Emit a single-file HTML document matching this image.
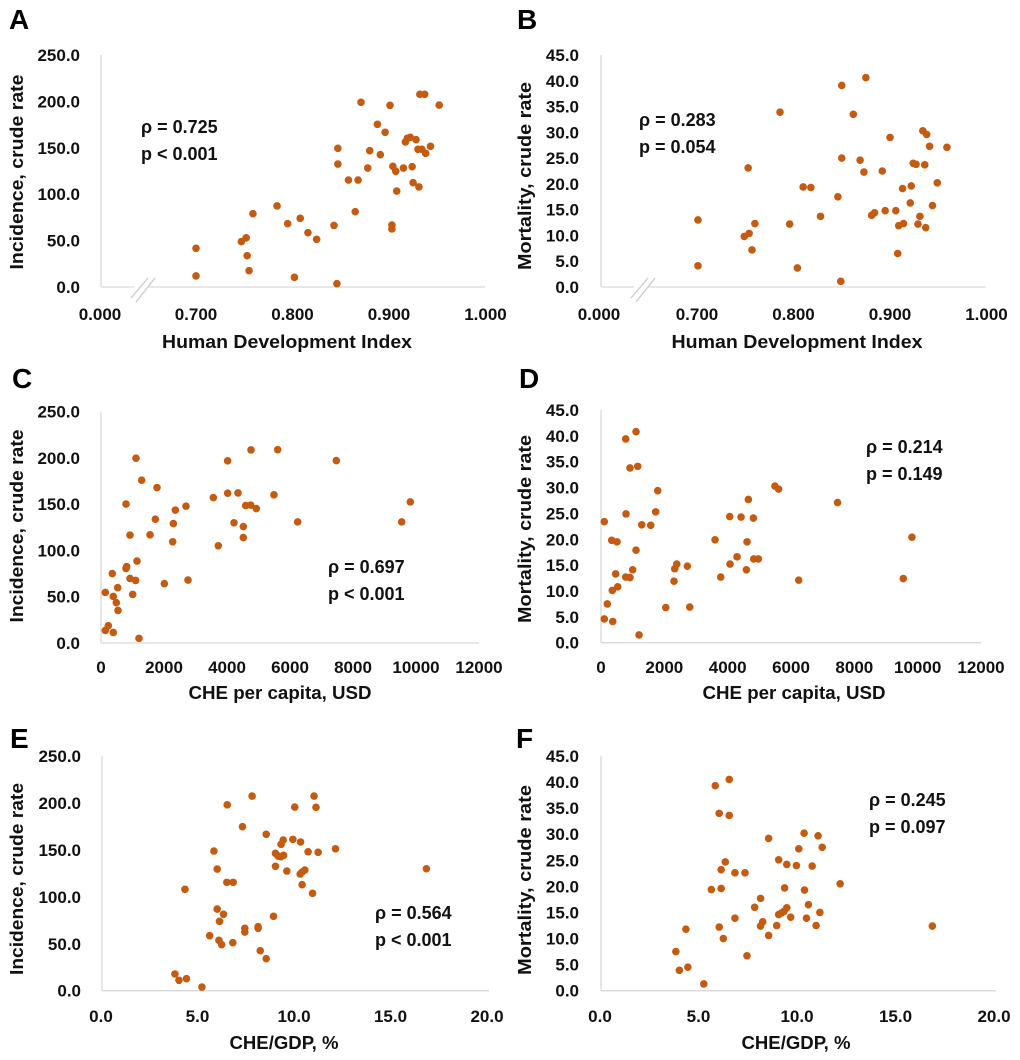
<!DOCTYPE html>
<html><head><meta charset="utf-8">
<style>
html,body{margin:0;padding:0;background:#fff;}
svg{display:block;font-family:"Liberation Sans",sans-serif;font-weight:bold;}
</style></head>
<body>
<svg id="fig" width="1020" height="1060" viewBox="0 0 1020 1060" xmlns="http://www.w3.org/2000/svg"></svg>
<script>
// ---- Panel A: HDI vs incidence ----
const hdiA=[0.700,0.700,0.747,0.752,0.753,0.755,0.759,0.784,0.795,0.802,0.808,0.816,0.825,0.843,0.846,0.847,0.847,0.858,0.868,0.865,0.871,0.878,0.880,0.888,0.891,0.896,0.901,0.903,0.903,0.904,0.907,0.908,0.915,0.917,0.919,0.922,0.924,0.925,0.928,0.930,0.931,0.932,0.937,0.934,0.938,0.943,0.952];
const incA=[41.7,11.9,49,53,33.7,17.6,79,87.3,68.2,10.4,74,58.5,51.4,66.4,3.6,149.4,132.5,115.3,115.3,81.2,199,128.2,146.9,175.3,142.6,166.7,195.8,66.8,62.5,130,124.7,103.4,128.2,156.3,160.2,161.3,129.7,112.4,158.7,148.4,107.8,207.6,207.6,148.4,144,151.6,196];
// ---- Panel B: HDI vs mortality ----
const hdiB=[0.701,0.701,0.753,0.749,0.754,0.757,0.760,0.786,0.796,0.804,0.810,0.818,0.828,0.846,0.849,0.850,0.850,0.875,0.862,0.869,0.873,0.892,0.900,0.881,0.884,0.895,0.906,0.908,0.909,0.914,0.913,0.922,0.921,0.924,0.927,0.929,0.931,0.934,0.938,0.936,0.937,0.941,0.944,0.949,0.959];
const mortB=[13.0,4.1,23.1,9.8,10.4,7.2,12.3,33.9,12.2,3.7,19.4,19.3,13.7,17.5,1.1,39.1,25.0,40.6,33.5,24.6,22.3,22.5,29.0,13.9,14.4,14.8,14.8,6.5,11.9,12.3,19.1,19.6,16.3,24.0,23.8,12.2,13.7,30.3,29.6,23.7,11.5,27.3,15.8,20.2,27.1];
// ---- Panel C: CHE per capita vs incidence ----
const cheC=[137,137,232,359,390,390,486,529,540,794,794,815,921,921,1005,1100,1111,1143,1206,1291,1556,1725,1778,2010,2276,2296,2360,2698,2762,3566,3724,4021,4021,4222,4349,4518,4518,4593,4752,4762,4930,5609,7470,5492,6244,9546,9819];
const incC=[54.6,13.6,18.7,75,50.3,11.4,43.5,59.7,35.2,150,80.5,82.6,116.5,69.7,52.4,67.6,199.6,88.5,5,175.8,116.8,133.7,167.8,64,109.3,129,143.5,147.8,68,157,105,196.7,161.8,129.8,162.1,113.9,125.8,148.4,148.9,208.5,145.2,208.8,197,160,130.8,130.8,152.4];
// ---- Panel D: CHE per capita vs mortality ----
const cheD=[104,104,199,338,506,357,370,464,528,780,790,780,916,916,1001,1106,1106,1160,1201,1286,1570,1728,1791,2044,2306,2328,2392,2727,2802,3602,3781,4065,4075,4297,4423,4591,4612,4654,4812,4824,4970,5492,5609,7470,6244,9546,9819];
const mortD=[23.4,4.6,7.5,19.8,19.5,10.1,4.1,13.3,10.8,39.4,24.9,12.7,12.6,33.8,14.1,40.8,17.9,34.1,1.5,22.8,22.7,25.3,29.4,6.8,11.9,14.3,15.2,14.8,6.9,19.9,12.7,24.4,15.2,16.6,24.3,14.1,19.5,27.7,24.1,16.2,16.2,30.3,29.7,27.1,12.1,12.4,20.4];
// ---- Panel E: CHE/GDP vs incidence ----
const gdpE=[3.83,4.04,4.43,4.35,5.23,5.63,5.85,6.02,6.02,6.14,6.11,6.25,6.35,6.54,6.52,6.85,6.83,7.33,7.45,7.45,7.83,8.14,8.14,8.25,8.56,8.56,8.94,9.04,9.04,9.18,9.32,9.46,9.33,9.44,9.63,9.94,10.04,10.34,10.32,10.42,10.56,10.42,10.73,10.96,11.04,11.14,11.25,12.15,16.86];
const incE=[17.8,11.1,12.8,108,3.9,58.6,148.8,129.6,87,73.9,53.7,49,81.4,198,115.4,115.4,51.1,174.7,66.5,62.5,207.3,68.2,66.5,42.6,34.1,166.6,79.2,146.3,132.5,143.4,142.7,144.2,155.9,160.5,127.5,161.2,195.6,158.4,124.3,126.4,128.5,112.9,148,103.7,207.3,195.3,147.4,151.2,129.9];
// ---- Panel F: CHE/GDP vs mortality ----
const gdpF=[3.85,4.03,4.46,4.36,5.27,5.65,5.85,6.05,6.05,6.15,6.15,6.26,6.36,6.56,6.56,6.85,6.85,7.36,7.46,7.85,8.15,8.15,8.26,8.56,8.56,8.97,9.07,9.07,9.21,9.34,9.48,9.37,9.48,9.68,9.97,10.09,10.36,10.38,10.48,10.58,10.77,10.97,11.07,11.16,11.28,12.19,16.87];
const mortF=[7.5,3.9,4.5,11.8,1.3,19.4,39.3,34.0,12.2,23.2,19.6,10.0,24.7,40.5,33.6,22.6,13.9,22.6,6.7,16.0,17.7,12.4,13.2,29.2,10.6,12.5,25.1,14.6,14.9,15.2,15.9,19.7,24.2,14.1,24.0,27.2,30.2,19.3,13.9,16.5,23.9,12.5,29.7,15.0,27.5,20.5,12.4];

const incTicks=["0.0","50.0","100.0","150.0","200.0","250.0"];
const incTickVals=[0,50,100,150,200,250];
const mortTicks=["0.0","5.0","10.0","15.0","20.0","25.0","30.0","35.0","40.0","45.0"];
const mortTickVals=[0,5,10,15,20,25,30,35,40,45];
const hdiTicks=["0.000","0.700","0.800","0.900","1.000"];
const hdiTickVals=[0,0.7,0.8,0.9,1.0];
const cheTicks=["0","2000","4000","6000","8000","10000","12000"];
const cheTickVals=[0,2000,4000,6000,8000,10000,12000];
const gdpTicks=["0.0","5.0","10.0","15.0","20.0"];
const gdpTickVals=[0,5,10,15,20];

const NS="http://www.w3.org/2000/svg";
const svg=document.getElementById('fig');
function mk(tag,attrs,parent){const e=document.createElementNS(NS,tag);for(const k in attrs)e.setAttribute(k,attrs[k]);(parent||svg).appendChild(e);return e;}

function panel(p){
  const g=mk('g',{});
  
  
  const y=v=>p.y0-(v-p.ymin)/(p.ymax-p.ymin)*(p.y0-p.y1);
  const x=p.xs;
  const L=mk('text',{x:p.lx,y:p.ly,'font-size':28,fill:'#000'},g);L.textContent=p.id;
  
  
  const ya=mk('line',{x1:p.ax,y1:p.y1,x2:p.ax,y2:p.y0,stroke:'#d9d9d9','stroke-width':1.3},g);
  
  
  const xa=mk('line',{x1:p.ax,y1:p.y0,x2:p.xend,y2:p.y0,stroke:'#d9d9d9','stroke-width':1.3},g);
  
  
  if(p.brk){
    const b=mk('g',{},g);
    
    
    mk('rect',{x:p.ax+33,y:p.y0-3,width:14,height:6,fill:'#fff'},b);
    mk('line',{x1:p.ax+30,y1:p.y0+11,x2:p.ax+47,y2:p.y0-9,stroke:'#c8c8c8','stroke-width':1.2},b);
    mk('line',{x1:p.ax+35,y1:p.y0+15,x2:p.ax+54,y2:p.y0-9,stroke:'#c8c8c8','stroke-width':1.2},b);
  }
  p.yTickVals.forEach((v,i)=>{
    const t=mk('text',{x:p.ylx,y:y(v)+6,'font-size':17,'text-anchor':'end',fill:'#111'},g);
    t.textContent=p.yTicks[i];
    
    
  });
  p.xTickVals.forEach((v,i)=>{
    const t=mk('text',{x:x(v),y:p.xly,'font-size':17,'text-anchor':'middle',fill:'#111'},g);
    t.textContent=p.xTicks[i];
    
    
  });
  const xt=mk('text',{x:p.xtx,y:p.xty,'font-size':18,'text-anchor':'middle',fill:'#111',textLength:p.xtl,lengthAdjust:'spacingAndGlyphs'},g);
  xt.textContent=p.xTitle;
  
  
  const yt=mk('text',{x:0,y:0,'font-size':18,'text-anchor':'middle',fill:'#111',textLength:p.ytl,lengthAdjust:'spacingAndGlyphs',transform:`translate(${p.ytx},${p.yty}) rotate(-90)`},g);
  yt.textContent=p.yTitle;
  
  
  const a1=mk('text',{x:p.anx,y:p.any,'font-size':18,fill:'#111'},g);a1.textContent=p.an1;
  
  
  const a2=mk('text',{x:p.anx,y:p.any+27,'font-size':18,fill:'#111'},g);a2.textContent=p.an2;
  
  
  p.xd.forEach((v,i)=>{
    const c=mk('circle',{cx:x(v),cy:y(p.yd[i]),r:3.8,fill:'#C55A11'},g);
    
    
  });
}
function hdiScale(ox,o7,step){return v=>v<=0?ox:o7+(v-0.7)/0.1*step;}
function lin(x0,x1,vmax){return v=>x0+v/vmax*(x1-x0);}

panel({id:'A',lx:9,ly:29,ax:101,xend:485,y0:287,y1:55,ymin:0,ymax:250,ylx:80,xly:320,
  xs:hdiScale(100,196,96.5),brk:true,yTicks:incTicks,yTickVals:incTickVals,xTicks:hdiTicks,xTickVals:hdiTickVals,
  xTitle:'Human Development Index',xtx:287,xty:348,xtl:250,yTitle:'Incidence, crude rate',ytx:23,yty:172,ytl:195,
  an1:'ρ = 0.725',an2:'p < 0.001',anx:141,any:133,xd:hdiA,yd:incA});
panel({id:'B',lx:517,ly:29,ax:601,xend:986,y0:287,y1:55,ymin:0,ymax:45,ylx:579,xly:320,
  xs:hdiScale(599,697,96.5),brk:true,yTicks:mortTicks,yTickVals:mortTickVals,xTicks:hdiTicks,xTickVals:hdiTickVals,
  xTitle:'Human Development Index',xtx:797,xty:348,xtl:251,yTitle:'Mortality, crude rate',ytx:531,yty:176,ytl:188,
  an1:'ρ = 0.283',an2:'p = 0.054',anx:639,any:126,xd:hdiB,yd:mortB});
panel({id:'C',lx:12,ly:388,ax:101,xend:479,y0:643,y1:411.5,ymin:0,ymax:250,ylx:80,xly:673,
  xs:lin(101,479,12000),yTicks:incTicks,yTickVals:incTickVals,xTicks:cheTicks,xTickVals:cheTickVals,
  xTitle:'CHE per capita, USD',xtx:280,xty:699,xtl:183,yTitle:'Incidence, crude rate',ytx:23,yty:526,ytl:193,
  an1:'ρ = 0.697',an2:'p < 0.001',anx:328,any:573,xd:cheC,yd:incC});
panel({id:'D',lx:519,ly:388,ax:601,xend:981,y0:642.7,y1:410,ymin:0,ymax:45,ylx:579,xly:673,
  xs:lin(601,981,12000),yTicks:mortTicks,yTickVals:mortTickVals,xTicks:cheTicks,xTickVals:cheTickVals,
  xTitle:'CHE per capita, USD',xtx:794,xty:699,xtl:183,yTitle:'Mortality, crude rate',ytx:531,yty:529,ytl:188,
  an1:'ρ = 0.214',an2:'p = 0.149',anx:866,any:453,xd:cheD,yd:mortD});
panel({id:'E',lx:10,ly:748,ax:102,xend:489,y0:990.7,y1:756,ymin:0,ymax:250,ylx:81,xly:1022,
  xs:lin(101,487,20),yTicks:incTicks,yTickVals:incTickVals,xTicks:gdpTicks,xTickVals:gdpTickVals,
  xTitle:'CHE/GDP, %',xtx:284,xty:1049,xtl:109,yTitle:'Incidence, crude rate',ytx:23,yty:879,ytl:192,
  an1:'ρ = 0.564',an2:'p < 0.001',anx:375,any:919,xd:gdpE,yd:incE});
panel({id:'F',lx:516,ly:748,ax:601,xend:996,y0:990.7,y1:756,ymin:0,ymax:45,ylx:579,xly:1022,
  xs:lin(600,994,20),yTicks:mortTicks,yTickVals:mortTickVals,xTicks:gdpTicks,xTickVals:gdpTickVals,
  xTitle:'CHE/GDP, %',xtx:796,xty:1049,xtl:109,yTitle:'Mortality, crude rate',ytx:531,yty:880,ytl:190,
  an1:'ρ = 0.245',an2:'p = 0.097',anx:869,any:806,xd:gdpF,yd:mortF});
</script>
</body></html>
